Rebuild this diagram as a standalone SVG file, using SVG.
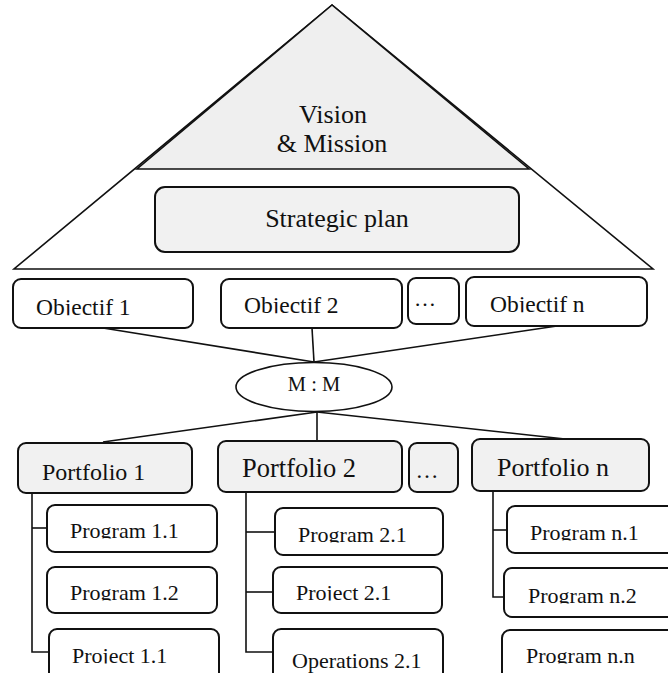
<svg xmlns="http://www.w3.org/2000/svg" width="668" height="673" viewBox="0 0 668 673">
  <style>
    text { font-family: "Liberation Serif", "Times New Roman", serif; fill: #111; }
    .box { fill: #ffffff; stroke: #111; stroke-width: 2; }
    .grey { fill: #f1f1f1; stroke: #111; stroke-width: 2; }
    .link { fill: none; stroke: #111; stroke-width: 1.6; }
    .pyr { stroke: #111; stroke-width: 1.6; }
    .big { font-size: 26px; }
    .obj { font-size: 23.5px; }
    .item { font-size: 22px; }
    .cut { clip-path: url(#baseline-cut); }
  </style>
  <defs>
    <!-- trims descenders at the baseline, like a too-short text frame -->
    <clipPath id="baseline-cut" clipPathUnits="objectBoundingBox">
      <rect x="-0.05" y="-0.1" width="1.1" height="0.915"/>
    </clipPath>
  </defs>

  <!-- Pyramid: vision & mission apex over the strategic plan band -->
  <g id="pyramid">
    <polygon points="332,5 14,269 653,269" fill="#ffffff" class="pyr"/>
    <polygon points="332,5 137,169 529,169" fill="#efefef" class="pyr"/>
  </g>
  <g id="vision-mission">
    <text class="big" x="333" y="123" text-anchor="middle">Vision</text>
    <text class="big" x="332" y="152" text-anchor="middle">&amp; Mission</text>
  </g>
  <g id="strategic-plan">
    <rect class="grey" x="155" y="187" width="364" height="65" rx="10"/>
    <text class="big" x="337" y="227" text-anchor="middle">Strategic plan</text>
  </g>

  <!-- Connectors -->
  <g id="connectors">
    <line class="link" x1="103" y1="328" x2="314" y2="362"/>
    <line class="link" x1="312" y1="328" x2="314" y2="362"/>
    <line class="link" x1="557" y1="326" x2="314" y2="362"/>
    <line class="link" x1="317" y1="412" x2="103" y2="442"/>
    <line class="link" x1="317" y1="412" x2="317" y2="441"/>
    <line class="link" x1="317" y1="412" x2="565" y2="439"/>
    <!-- portfolio 1 tree -->
    <polyline class="link" points="32,493 32,652 49,652"/>
    <line class="link" x1="32" y1="528" x2="47" y2="528"/>
    <!-- portfolio 2 tree -->
    <polyline class="link" points="246,492 246,652 273,652"/>
    <line class="link" x1="246" y1="532" x2="275" y2="532"/>
    <line class="link" x1="246" y1="592" x2="273" y2="592"/>
    <!-- portfolio n tree -->
    <polyline class="link" points="493,490 493,597 504,597"/>
    <line class="link" x1="493" y1="530" x2="507" y2="530"/>
  </g>

  <!-- Objectives -->
  <g id="objectif-1">
    <rect class="box" x="13" y="279" width="180" height="49" rx="8"/>
    <text class="obj cut" x="36" y="315">Objectif 1</text>
  </g>
  <g id="objectif-2">
    <rect class="box" x="221" y="279" width="181" height="49" rx="8"/>
    <text class="obj cut" x="244" y="313">Objectif 2</text>
  </g>
  <g id="objectif-more">
    <rect class="box" x="408" y="278" width="51" height="46" rx="8"/>
    <text x="425" y="306" font-size="22" text-anchor="middle">…</text>
  </g>
  <g id="objectif-n">
    <rect class="box" x="466" y="277" width="181" height="49" rx="8"/>
    <text class="obj cut" x="490" y="312">Objectif n</text>
  </g>

  <!-- Many-to-many relation -->
  <g id="relation">
    <ellipse cx="314" cy="387" rx="78" ry="24.5" fill="#ffffff" stroke="#111" stroke-width="1.6"/>
    <text x="314" y="391" font-size="20.5" text-anchor="middle">M : M</text>
  </g>

  <!-- Portfolios -->
  <g id="portfolio-1">
    <rect class="grey" x="18" y="443" width="174" height="50" rx="8"/>
    <text x="42" y="480" font-size="24">Portfolio 1</text>
  </g>
  <g id="portfolio-2">
    <rect class="grey" x="218" y="441" width="184" height="51" rx="8"/>
    <text x="242" y="477" font-size="26.5">Portfolio 2</text>
  </g>
  <g id="portfolio-more">
    <rect class="grey" x="409" y="443" width="49" height="49" rx="8"/>
    <text x="427" y="478" font-size="23" text-anchor="middle">…</text>
  </g>
  <g id="portfolio-n">
    <rect class="grey" x="472" y="439" width="177" height="52" rx="8"/>
    <text x="497" y="476" font-size="26">Portfolio n</text>
  </g>

  <!-- Portfolio 1 components -->
  <g id="program-1-1">
    <rect class="box" x="47" y="505" width="170" height="47" rx="8"/>
    <text class="item cut" x="70" y="538">Program 1.1</text>
  </g>
  <g id="program-1-2">
    <rect class="box" x="47" y="567" width="170" height="46" rx="8"/>
    <text class="item cut" x="70" y="600">Program 1.2</text>
  </g>
  <g id="project-1-1">
    <rect class="box" x="49" y="629" width="170" height="60" rx="8"/>
    <text class="item cut" x="72" y="663">Project 1.1</text>
  </g>

  <!-- Portfolio 2 components -->
  <g id="program-2-1">
    <rect class="box" x="275" y="508" width="168" height="47" rx="8"/>
    <text class="item cut" x="298" y="542">Program 2.1</text>
  </g>
  <g id="project-2-1">
    <rect class="box" x="273" y="567" width="169" height="46" rx="8"/>
    <text class="item cut" x="296" y="600">Project 2.1</text>
  </g>
  <g id="operations-2-1">
    <rect class="box" x="273" y="629" width="170" height="60" rx="8"/>
    <text class="item" x="292" y="668">Operations 2.1</text>
  </g>

  <!-- Portfolio n components -->
  <g id="program-n-1">
    <rect class="box" x="507" y="506" width="180" height="47" rx="8"/>
    <text class="item cut" x="530" y="540">Program n.1</text>
  </g>
  <g id="program-n-2">
    <rect class="box" x="504" y="568" width="183" height="49" rx="8"/>
    <text class="item cut" x="528" y="603">Program n.2</text>
  </g>
  <g id="program-n-n">
    <rect class="box" x="502" y="630" width="185" height="60" rx="8"/>
    <text class="item cut" x="526" y="663">Program n.n</text>
  </g>
</svg>
